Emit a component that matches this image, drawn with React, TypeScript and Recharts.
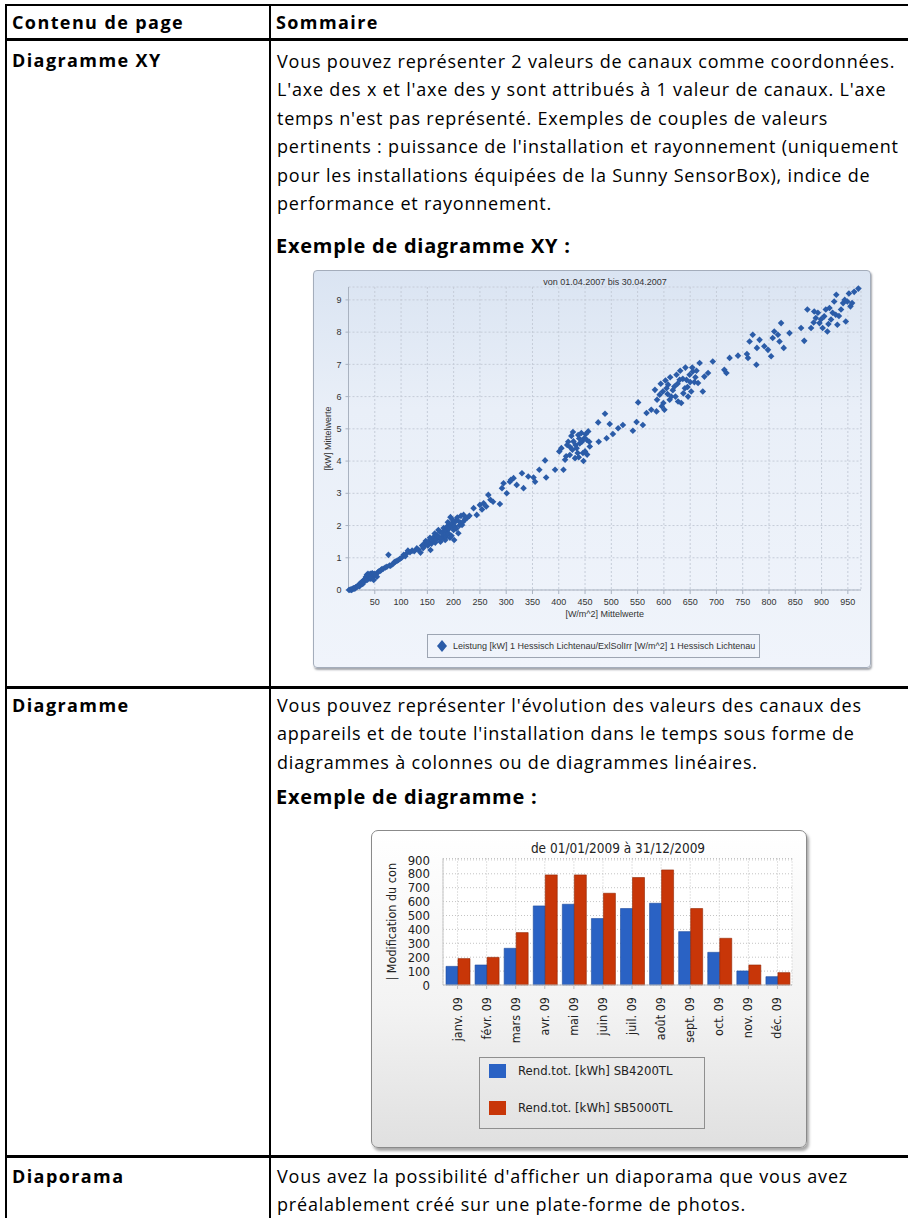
import React from "react";
import { ScatterChart, Scatter, BarChart, Bar, XAxis, YAxis, CartesianGrid } from "recharts";

// ---------- page text ----------
const headerLeft = "Contenu de page";
const headerRight = "Sommaire";

const row1Label = "Diagramme XY";
const row1Text = [
  "Vous pouvez représenter 2 valeurs de canaux comme coordonnées.",
  "L'axe des x et l'axe des y sont attribués à 1 valeur de canaux. L'axe",
  "temps n'est pas représenté. Exemples de couples de valeurs",
  "pertinents : puissance de l'installation et rayonnement (uniquement",
  "pour les installations équipées de la Sunny SensorBox), indice de",
  "performance et rayonnement.",
];
const row1Example = "Exemple de diagramme XY :";

const row2Label = "Diagramme";
const row2Text = [
  "Vous pouvez représenter l'évolution des valeurs des canaux des",
  "appareils et de toute l'installation dans le temps sous forme de",
  "diagrammes à colonnes ou de diagrammes linéaires.",
];
const row2Example = "Exemple de diagramme :";

const row3Label = "Diaporama";
const row3Text = [
  "Vous avez la possibilité d'afficher un diaporama que vous avez",
  "préalablement créé sur une plate-forme de photos.",
];

// ---------- XY chart ----------
const xyTitle = "von 01.04.2007 bis 30.04.2007";
const xyXLabel = "[W/m^2] Mittelwerte";
const xyYLabel = "[kW] Mittelwerte";
const xyLegend = "Leistung [kW] 1 Hessisch Lichtenau/ExlSolIrr [W/m^2] 1 Hessisch Lichtenau";
const xyXTicks = [50, 100, 150, 200, 250, 300, 350, 400, 450, 500, 550, 600, 650, 700, 750, 800, 850, 900, 950];
const xyYTicks = [0, 1, 2, 3, 4, 5, 6, 7, 8, 9];

// [W/m^2, kW] low irradiance
const xyLow: [number, number][] = [
  [1, 0.0], [3, 0.01], [5, 0.02], [6, 0.0], [8, 0.03], [9, 0.05], [11, 0.06], [12, 0.04],
  [14, 0.08], [15, 0.1], [17, 0.11], [18, 0.13], [20, 0.15], [21, 0.12], [22, 0.2], [23, 0.18],
  [24, 0.2], [25, 0.25], [26, 0.22], [27, 0.19], [28, 0.26], [29, 0.3], [30, 0.28], [31, 0.33],
  [33, 0.3], [33, 0.4], [34, 0.36], [35, 0.41], [35, 0.47], [36, 0.32], [37, 0.5], [38, 0.45],
  [39, 0.38], [39, 0.43], [40, 0.48], [41, 0.42], [41, 0.35], [42, 0.5], [43, 0.36], [44, 0.46],
  [44, 0.39], [45, 0.52], [46, 0.4], [46, 0.5], [47, 0.49], [48, 0.31], [49, 0.44], [50, 0.5],
  [52, 0.47], [54, 0.41], [56, 0.55], [58, 0.58], [61, 0.6], [63, 0.64], [66, 0.66], [70, 0.7],
  [73, 0.72], [76, 1.09], [78, 0.76], [80, 0.75], [84, 0.8], [87, 0.86], [89, 0.88], [92, 0.9],
  [95, 0.93], [98, 0.97], [101, 1.0], [105, 1.09], [108, 1.05], [111, 1.14], [113, 1.22], [117, 1.17],
  [121, 1.22], [125, 1.2], [130, 1.29], [133, 1.25], [137, 1.16], [140, 1.38], [142, 1.3], [143, 1.35],
  [146, 1.47], [147, 1.52], [149, 1.41], [151, 1.38], [152, 1.5], [155, 1.62], [156, 1.24], [158, 1.44],
  [159, 1.58], [161, 1.52], [162, 1.64], [164, 1.75], [165, 1.47], [167, 1.56], [168, 1.7], [170, 1.66],
  [171, 1.86], [173, 1.62], [174, 1.8], [175, 1.5], [177, 1.6], [178, 1.78], [180, 1.7], [181, 1.92],
  [183, 1.83], [184, 1.55], [185, 1.64], [186, 1.85], [187, 1.72], [188, 1.98], [189, 2.1], [190, 1.76],
  [191, 1.9], [192, 2.05], [193, 1.62], [194, 2.26], [195, 2.0], [196, 1.68], [197, 2.07], [198, 2.18],
  [199, 1.95], [200, 1.86], [201, 1.55], [202, 1.98], [203, 2.12], [205, 1.9], [206, 2.17], [207, 2.25],
  [209, 1.76], [211, 2.0], [212, 2.1], [214, 2.3], [216, 2.02], [218, 2.12], [219, 2.33], [222, 2.2],
  [225, 2.23], [230, 2.3], [238, 2.54], [244, 2.33], [250, 2.64], [254, 2.5], [257, 2.69], [262, 2.59],
  [266, 2.95], [270, 2.8], [275, 2.74], [288, 2.67], [292, 3.16], [295, 3.31],
];

// [W/m^2, kW] high irradiance
const xyHigh: [number, number][] = [
  [301, 3.0], [307, 3.36], [309, 3.42], [314, 3.47], [320, 3.26], [330, 3.62], [333, 3.16], [342, 3.52],
  [352, 3.49], [355, 3.36], [363, 3.73], [374, 4.02], [376, 3.49], [393, 3.73], [401, 4.3], [405, 4.4],
  [409, 3.73], [412, 4.04], [414, 4.15], [416, 4.5], [418, 4.6], [421, 4.19], [422, 4.43], [424, 4.78],
  [426, 4.35], [427, 4.9], [428, 4.61], [431, 4.09], [432, 4.5], [434, 4.4], [436, 4.25], [437, 4.81],
  [438, 4.12], [439, 4.7], [440, 4.55], [443, 4.87], [444, 4.6], [446, 4.25], [447, 4.0], [448, 4.7],
  [450, 4.3], [451, 4.83], [453, 4.66], [454, 4.2], [456, 4.92], [458, 4.6], [459, 4.45], [475, 5.2],
  [476, 4.6], [488, 5.47], [491, 4.71], [497, 5.15], [503, 4.84], [513, 5.02], [522, 5.12], [541, 4.94],
  [548, 5.21], [551, 5.82], [560, 5.12], [567, 5.49], [576, 5.59], [583, 6.21], [586, 5.54], [587, 5.9],
  [592, 6.06], [594, 6.4], [596, 5.7], [598, 6.16], [599, 5.8], [601, 5.59], [603, 6.5], [605, 6.26],
  [607, 6.08], [608, 6.37], [611, 5.9], [612, 6.6], [614, 6.0], [617, 6.2], [620, 6.31], [622, 6.0],
  [624, 6.68], [626, 6.4], [627, 5.85], [630, 6.52], [631, 6.8], [633, 5.8], [636, 6.55], [637, 6.1],
  [640, 6.26], [641, 6.9], [643, 6.52], [645, 6.3], [646, 6.0], [649, 6.68], [650, 6.45], [652, 6.16],
  [654, 6.9], [655, 6.78], [658, 6.45], [660, 6.6], [662, 6.8], [665, 6.42], [668, 7.04], [674, 6.16],
  [677, 6.62], [684, 6.73], [693, 7.09], [715, 6.83], [719, 6.73], [725, 7.2], [741, 7.27], [758, 7.32],
  [760, 7.2], [763, 7.71], [769, 7.92], [776, 6.99], [777, 7.51], [782, 7.76], [791, 7.56], [798, 7.45],
  [804, 7.25], [807, 7.82], [810, 8.02], [817, 7.92], [820, 7.71], [823, 8.28], [828, 7.51], [839, 7.97],
  [861, 8.13], [867, 7.73], [873, 8.7], [880, 8.13], [885, 8.3], [886, 8.64], [889, 8.44], [893, 8.6],
  [896, 8.28], [899, 8.4], [902, 8.13], [905, 8.49], [908, 8.7], [911, 8.02], [913, 8.25], [915, 8.75],
  [918, 8.39], [921, 8.6], [924, 8.95], [927, 8.54], [928, 9.16], [930, 8.23], [933, 8.5], [937, 8.7],
  [941, 8.9], [944, 9.0], [946, 8.33], [949, 8.95], [952, 9.2], [955, 8.8], [958, 8.9], [962, 9.25],
  [970, 9.35],
];

// ---------- column chart ----------
const barTitle = "de 01/01/2009 à 31/12/2009";
const barYLabel = "| Modification du con";
const months = ["janv. 09", "févr. 09", "mars 09", "avr. 09", "mai 09", "juin 09", "juil. 09", "août 09", "sept. 09", "oct. 09", "nov. 09", "déc. 09"];
const sb4200 = [134, 144, 264, 569, 581, 478, 550, 588, 384, 235, 101, 60];
const sb5000 = [190, 199, 377, 792, 792, 660, 773, 828, 550, 336, 144, 89];
const barYTicks = [0, 100, 200, 300, 400, 500, 600, 700, 800, 900];
const seriesNames = ["Rend.tot. [kWh] SB4200TL", "Rend.tot. [kWh] SB5000TL"];
const seriesColors = ["#2a62c4", "#c83608"];

const pageFont = "'Open Sans', sans-serif";
const docFont = "'DejaVu Sans Condensed', 'DejaVu Sans', sans-serif";

const xyData = [...xyLow, ...xyHigh].map(([x, y]) => ({ x, y }));
const barData = months.map((m, i) => ({ month: m, sb4200: sb4200[i], sb5000: sb5000[i] }));

function TextLine({
  x,
  base,
  bold,
  heading,
  children,
}: {
  x: number;
  base: number;
  bold?: boolean;
  heading?: boolean;
  children: React.ReactNode;
}) {
  const size = heading ? 20 : 18;
  return (
    <div
      style={{
        position: "absolute",
        left: x,
        top: base - 21,
        height: 28,
        lineHeight: "28px",
        fontSize: size,
        letterSpacing: heading ? 0.75 : bold ? 1.4 : 0.8,
        fontWeight: bold || heading ? 700 : 400,
        whiteSpace: "nowrap",
        color: "#000",
      }}
    >
      {children}
    </div>
  );
}

function Rule({ x, y, w, h }: { x: number; y: number; w: number; h: number }) {
  return <div style={{ position: "absolute", left: x, top: y, width: w, height: h, background: "#000" }} />;
}

const DiamondDot = (props: any) => {
  const { cx, cy } = props;
  if (cx == null || cy == null) return null;
  const r = 3.3;
  return <path d={`M${cx},${cy - r}L${cx + r},${cy}L${cx},${cy + r}L${cx - r},${cy}Z`} fill="#2b5ca8" />;
};

const MonthTick = (props: any) => {
  const { x, y, payload } = props;
  return (
    <text
      x={x}
      y={y}
      transform={`rotate(-90, ${x}, ${y})`}
      textAnchor="end"
      dy="0.32em"
      fontSize={12.5}
      fill="#222"
      fontFamily={docFont}
    >
      {payload.value}
    </text>
  );
};

function XYChartBox() {
  return (
    <div
      style={{
        position: "absolute",
        left: 313,
        top: 270,
        width: 558,
        height: 398,
        boxSizing: "border-box",
        border: "1px solid #a4adbb",
        borderRadius: 4,
        background: "linear-gradient(#dae4f2 0%, #e9eff8 35%, #f0f4fb 100%)",
        boxShadow: "1px 2px 2px rgba(90,95,105,0.55)",
        fontFamily: "Arial, 'Liberation Sans', sans-serif",
      }}
    >
      <div style={{ position: "absolute", left: 34.5, top: 6, width: 513, textAlign: "center", fontSize: 9, color: "#333" }}>
        {xyTitle}
      </div>
      <div style={{ position: "absolute", left: -1, top: -1 }}>
        <ScatterChart width={558} height={398} margin={{ top: 17, right: 10, bottom: 48, left: 14.5 }}>
          <CartesianGrid stroke="#c5ccd8" strokeDasharray="2 2" />
          <XAxis
            type="number"
            dataKey="x"
            domain={[0, 975]}
            ticks={xyXTicks}
            interval={0}
            height={30}
            tickSize={4}
            tickMargin={5}
            tick={{ fontSize: 9, fill: "#333" }}
            stroke="#a9b2c0"
            label={{ value: xyXLabel, position: "insideBottom", offset: 3.5, fontSize: 9, fill: "#333" }}
          />
          <YAxis
            type="number"
            dataKey="y"
            domain={[0, 9.4]}
            ticks={xyYTicks}
            interval={0}
            width={21}
            tickSize={3}
            tickMargin={4}
            tick={{ fontSize: 9, fill: "#333" }}
            stroke="#a9b2c0"
            label={{ value: xyYLabel, angle: -90, position: "insideLeft", offset: 0.5, fontSize: 9, fill: "#333", style: { textAnchor: "middle" } }}
          />
          <Scatter data={xyData} shape={DiamondDot} isAnimationActive={false} />
        </ScatterChart>
      </div>
      <div
        style={{
          position: "absolute",
          left: 113,
          top: 363,
          width: 333,
          height: 24,
          boxSizing: "border-box",
          border: "1px solid #9da5b2",
          fontSize: 9,
          color: "#333",
        }}
      >
        <svg width={12} height={12} style={{ position: "absolute", left: 8, top: 5 }}>
          <path d="M6,0L11,6L6,12L1,6Z" fill="#2b5ca8" />
        </svg>
        <div style={{ position: "absolute", left: 25, top: 5.5, whiteSpace: "nowrap" }}>{xyLegend}</div>
      </div>
    </div>
  );
}

function BarChartBox() {
  return (
    <div
      style={{
        position: "absolute",
        left: 371,
        top: 830,
        width: 436,
        height: 318,
        boxSizing: "border-box",
        border: "1px solid #8a8a8a",
        borderRadius: 7,
        background: "linear-gradient(#ffffff 0%, #f3f3f3 55%, #e0e0e0 100%)",
        boxShadow: "2px 3px 3px rgba(0,0,0,0.35)",
        fontFamily: docFont,
        color: "#222",
      }}
    >
      <div style={{ position: "absolute", left: 71, top: 9, width: 350, textAlign: "center", fontSize: 13.5 }}>{barTitle}</div>
      <div style={{ position: "absolute", left: -1, top: -1 }}>
        <BarChart
          width={436}
          height={318}
          data={barData}
          margin={{ top: 28.5, right: 15, bottom: 103, left: 22 }}
          barCategoryGap={3}
          barGap={0}
        >
          <CartesianGrid stroke="#c4c4c4" strokeDasharray="1 2" fill="#ffffff" />
          <XAxis
            dataKey="month"
            interval={0}
            height={60}
            tickSize={4}
            tickMargin={8}
            tick={<MonthTick />}
            stroke="#bdbdbd"
          />
          <XAxis xAxisId="top" orientation="top" height={0} tick={false} tickLine={false} stroke="#c8c8c8" />
          <YAxis
            domain={[0, 910]}
            ticks={barYTicks}
            interval={0}
            width={50}
            tickSize={0}
            tickMargin={13}
            tickLine={false}
            tick={{ fontSize: 13, fill: "#222", fontFamily: docFont }}
            stroke="#c8c8c8"
            label={{ value: barYLabel, angle: -90, position: "insideLeft", offset: -1, fontSize: 12.5, fill: "#222", fontFamily: docFont, style: { textAnchor: "middle" } }}
          />
          <YAxis yAxisId="r" orientation="right" width={0} tick={false} tickLine={false} stroke="#c8c8c8" />
          <Bar dataKey="sb4200" fill={seriesColors[0]} stroke="#1c4a9c" strokeWidth={0.6} isAnimationActive={false} />
          <Bar dataKey="sb5000" fill={seriesColors[1]} stroke="#922500" strokeWidth={0.6} isAnimationActive={false} />
        </BarChart>
      </div>
      <div
        style={{
          position: "absolute",
          left: 107,
          top: 226,
          width: 226,
          height: 72,
          boxSizing: "border-box",
          border: "1px solid #8f8f8f",
          fontSize: 13,
        }}
      >
        {seriesNames.map((name, i) => (
          <div key={name} style={{ position: "absolute", left: 9, top: 6 + i * 37, height: 15, whiteSpace: "nowrap" }}>
            <span style={{ position: "absolute", left: 0, top: 0, width: 17, height: 14, background: seriesColors[i] }} />
            <span style={{ position: "absolute", left: 29, top: -1, lineHeight: "16px" }}>{name}</span>
          </div>
        ))}
      </div>
    </div>
  );
}

export default function App() {
  return (
    <div
      style={{
        position: "absolute",
        left: 0,
        top: 0,
        width: 908,
        height: 1218,
        background: "#fff",
        overflow: "hidden",
        fontFamily: pageFont,
      }}
    >
      {/* table rules */}
      <Rule x={5} y={4} w={903} h={2} />
      <Rule x={5} y={38} w={903} h={3} />
      <Rule x={5} y={686} w={903} h={3} />
      <Rule x={5} y={1155} w={903} h={3} />
      <Rule x={5} y={4} w={2} h={1214} />
      <Rule x={269} y={4} w={2} h={1214} />

      <TextLine x={12} base={28.5} bold>{headerLeft}</TextLine>
      <TextLine x={276} base={28.5} bold>{headerRight}</TextLine>

      <TextLine x={12} base={67} bold>{row1Label}</TextLine>
      {row1Text.map((t, i) => (
        <TextLine key={t} x={277} base={67.5 + i * 28.5}>{t}</TextLine>
      ))}
      <TextLine x={276} base={252.5} heading>{row1Example}</TextLine>
      <XYChartBox />

      <TextLine x={12} base={711.5} bold>{row2Label}</TextLine>
      {row2Text.map((t, i) => (
        <TextLine key={t} x={277} base={711.5 + i * 28.6}>{t}</TextLine>
      ))}
      <TextLine x={276} base={803.5} heading>{row2Example}</TextLine>
      <BarChartBox />

      <TextLine x={12} base={1182.5} bold>{row3Label}</TextLine>
      {row3Text.map((t, i) => (
        <TextLine key={t} x={277} base={1182.5 + i * 28.6}>{t}</TextLine>
      ))}
    </div>
  );
}
